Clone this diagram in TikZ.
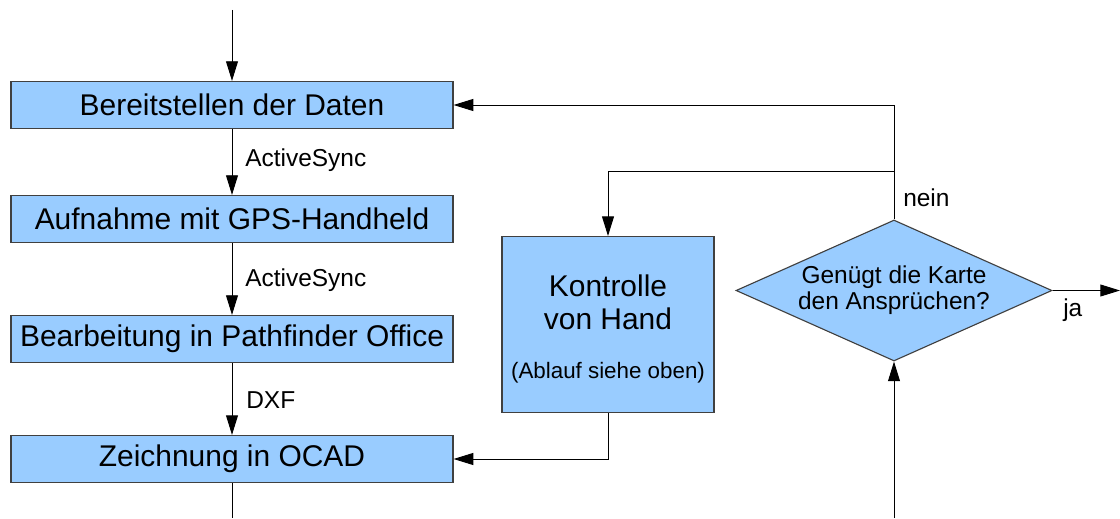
\documentclass[tikz,border=0pt]{standalone}
\usepackage{fontspec}
\setmainfont{Liberation Sans}
\usepackage{tikz}
\usetikzlibrary{arrows.meta,shapes.geometric}
\definecolor{boxblue}{HTML}{99CCFF}

\begin{document}
\begin{tikzpicture}[
  stepbox/.style={draw=black!75, line width=0.8pt, fill=boxblue, minimum width=11.05cm, minimum height=1.175cm, inner sep=0pt, font=\fontsize{21.3}{23}\selectfont},
  handbox/.style={stepbox, minimum width=5.3cm, minimum height=4.4cm, align=center},
  check/.style={draw=black!75, line width=0.8pt, fill=boxblue, diamond, aspect=2.24, minimum width=7.9cm, minimum height=3.525cm, inner sep=0pt, align=center, font=\fontsize{17.4}{18.5}\selectfont},
  arr/.style={-{Triangle[length=14pt,width=8.5pt]}, line width=0.7pt},
  lbl/.style={anchor=west, inner sep=0pt, font=\fontsize{17.4}{18.5}\selectfont}]
\useasboundingbox (0,0) rectangle (28,12.95);

\coordinate (in) at (5.8,12.7); \coordinate (out) at (5.8,0);
\node [stepbox] (daten) at (5.8,10.325) {Bereitstellen der Daten};
\node [stepbox] (gps) at (5.8,7.475) {Aufnahme mit GPS-Handheld};
\node [stepbox] (pfo) at (5.8,4.475) {Bearbeitung in Pathfinder Office};
\node [stepbox] (ocad) at (5.8,1.475) {Zeichnung in OCAD};
\draw [arr] (in) -- (daten);
\draw [arr] (daten) -- (gps); \node [lbl] at (6.125,8.95) {ActiveSync};
\draw [arr] (gps) -- (pfo); \node [lbl] at (6.125,5.95) {ActiveSync};
\draw [arr] (pfo) -- (ocad); \node [lbl] at (6.15,2.95) {DXF};
\draw [line width=0.7pt] (ocad) -- (out);

\node [handbox] (hand) at (15.2,4.835) {\rule{0pt}{22pt}Kontrolle\\von Hand\\[12pt]\fontsize{15.9}{17}\selectfont(Ablauf siehe oben)};
\node [check] (karte) at (22.35,5.6875) {Genügt die Karte\\den Ansprüchen?};
\coordinate (split) at (22.35,8.675); \coordinate (ja) at (28,5.6875); \coordinate (unten) at (22.35,0);

\draw [arr] (karte.north) |- (daten.east);
\draw [arr] (split) -| (hand.north); \node [lbl] at (22.575,8.0) {nein};
\draw [arr] (hand.south) |- (ocad.east);
\draw [arr] (karte.east) -- (ja); \node [lbl] at (26.575,5.2) {ja};
\draw [arr] (unten) -- (karte.south);
\end{tikzpicture}
\end{document}
